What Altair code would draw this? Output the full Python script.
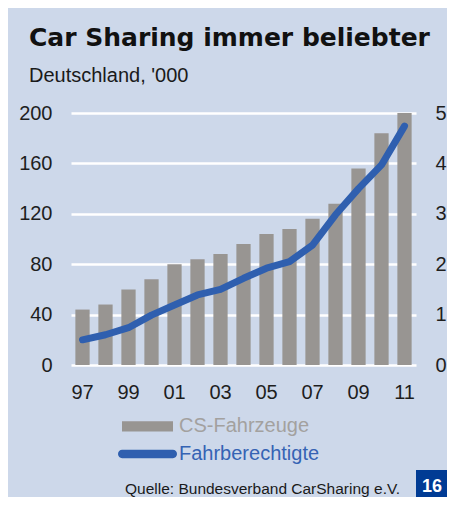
import altair as alt
import pandas as pd

years = ["97", "98", "99", "00", "01", "02", "03", "04", "05", "06", "07", "08", "09", "10", "11"]
fahrzeuge = [44, 48, 60, 68, 80, 84, 88, 96, 104, 108, 116, 128, 156, 184, 200]
fahrberechtigte = [0.50, 0.60, 0.74, 0.99, 1.19, 1.39, 1.50, 1.72, 1.92, 2.05, 2.38, 2.98, 3.50, 3.97, 4.74]
x_labels = ["97", "99", "01", "03", "05", "07", "09", "11"]
left_ticks = [0, 40, 80, 120, 160, 200]
right_ticks = [0, 1, 2, 3, 4, 5]
series = ["CS-Fahrzeuge", "Fahrberechtigte"]

title_text = "Car Sharing immer beliebter"
subtitle_text = "Deutschland, '000"
source_text = "Quelle: Bundesverband CarSharing e.V."
page_no = "16"

BG = "#cdd8ea"
GRAY = "#989592"
BLUE = "#2f5faf"
FONT = "Liberation Sans"

df = pd.DataFrame({
    "year": years,
    "fz": fahrzeuge,
    "fb": fahrberechtigte,
    "s1": [series[0]] * len(years),
    "s2": [series[1]] * len(years),
})

x_enc = alt.X(
    "year:N", sort=years, title=None,
    scale=alt.Scale(paddingInner=0.38, paddingOuter=0.19),
    axis=alt.Axis(values=x_labels, ticks=False, tickSize=0, domain=False, grid=False,
                  labelAngle=0, labelPadding=17, labelFontSize=20, labelFont=FONT,
                  labelColor="#1e1e1e"),
)

bars = alt.Chart(df).mark_bar().encode(
    x=x_enc,
    y=alt.Y("fz:Q", title=None, scale=alt.Scale(domain=[0, 200], nice=False),
            axis=alt.Axis(values=left_ticks, ticks=False, tickSize=0, domain=False,
                          grid=True, gridColor="white", gridWidth=2.5,
                          labelPadding=19, labelFontSize=20, labelFont=FONT,
                          labelColor="#1e1e1e")),
    fill=alt.Fill("s1:N", scale=alt.Scale(domain=[series[0]], range=[GRAY]),
                  legend=alt.Legend(title=None, orient="none", legendX=51, legendY=287.8,
                                    padding=0, symbolType="M-1,-0.2H1V0.2H-1Z",
                                    symbolSize=2601, symbolStrokeWidth=0,
                                    labelFontSize=20, labelFont=FONT,
                                    labelColor="#a3a19f", labelOffset=6)),
)

line = alt.Chart(df).mark_line(strokeWidth=7, strokeCap="round", strokeJoin="round").encode(
    x=x_enc,
    y=alt.Y("fb:Q", title=None, scale=alt.Scale(domain=[0, 5], nice=False),
            axis=alt.Axis(orient="right", values=right_ticks, ticks=False, tickSize=0,
                          domain=False, grid=False, labelPadding=19, labelFontSize=20,
                          labelFont=FONT, labelColor="#1e1e1e")),
    stroke=alt.Stroke("s2:N", scale=alt.Scale(domain=[series[1]], range=[BLUE]),
                      legend=alt.Legend(title=None, orient="none", legendX=47, legendY=311.5,
                                        padding=0,
                                        symbolType="M-0.86,-0.14H0.86A0.14,0.14 0 0 1 0.86,0.14H-0.86A0.14,0.14 0 0 1 -0.86,-0.14Z",
                                        symbolSize=3481, symbolStrokeWidth=0,
                                        symbolFillColor=BLUE,
                                        labelFontSize=20, labelFont=FONT,
                                        labelColor="#3563b4", labelOffset=2)),
)

one = pd.DataFrame({"t": [title_text], "st": [subtitle_text], "src": [source_text], "p": [page_no]})

title = alt.Chart(one).mark_text(align="left", baseline="alphabetic", font="DejaVu Sans",
                                 fontWeight="bold", fontSize=25, color="#111111").encode(
    x=alt.value(-42), y=alt.value(-67), text="t:N")
subtitle = alt.Chart(one).mark_text(align="left", baseline="alphabetic", font=FONT,
                                    fontSize=20, color="#1a1a1a").encode(
    x=alt.value(-42), y=alt.value(-31.3), text="st:N")
source = alt.Chart(one).mark_text(align="left", baseline="alphabetic", font=FONT,
                                  fontSize=15.5, color="#1a1a1a").encode(
    x=alt.value(54), y=alt.value(381), text="src:N")
box = alt.Chart(one).mark_rect(color="#003b94").encode(
    x=alt.value(345), x2=alt.value(376), y=alt.value(357), y2=alt.value(384))
box_text = alt.Chart(one).mark_text(align="center", baseline="alphabetic", font=FONT,
                                    fontWeight="bold", fontSize=18, color="white").encode(
    x=alt.value(361), y=alt.value(379), text="p:N")

chart = alt.layer(bars, line, title, subtitle, source, box, box_text).resolve_scale(
    y="independent", fill="independent", stroke="independent"
).properties(
    width=345, height=252,
    autosize=alt.AutoSizeParams(type="none"),
    padding={"left": 63, "top": 105, "right": 31, "bottom": 132},
    background=BG,
).configure_view(stroke=None)

chart.save("out.html", embed_options={"renderer": "svg", "actions": False})
